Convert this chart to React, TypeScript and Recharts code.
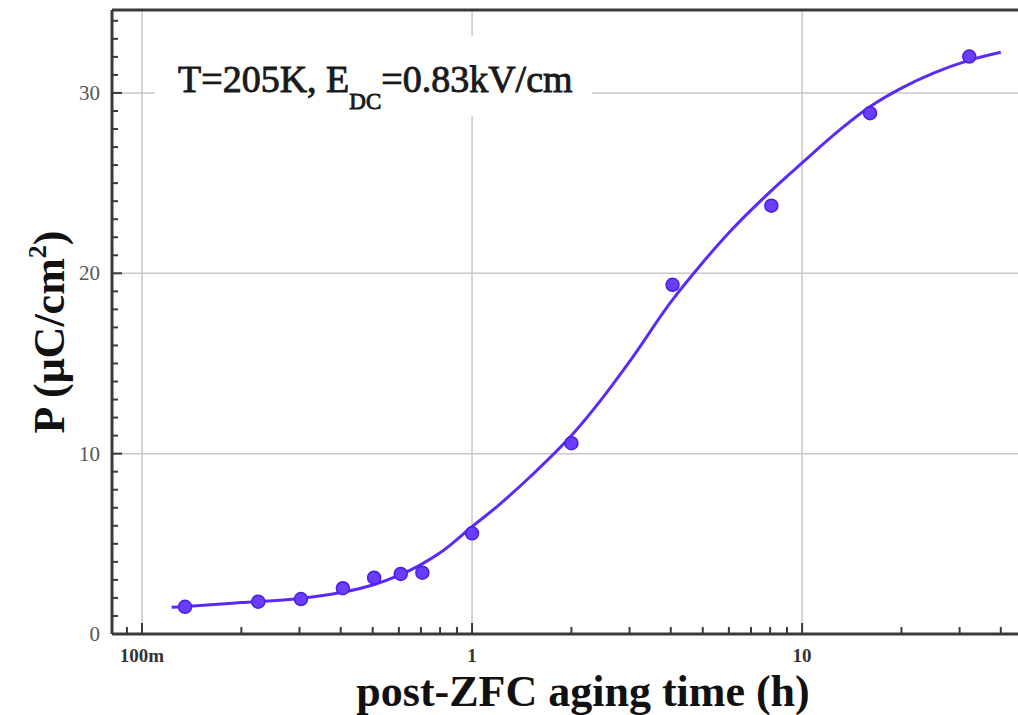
import { ComposedChart, Line, Scatter, XAxis, YAxis, ReferenceLine } from "recharts";

// measured points: aging time (h) vs polarization (uC/cm2)
const AGING_TIME = [0.135, 0.225, 0.303, 0.406, 0.505, 0.608, 0.707, 1.0, 2.0, 4.05, 8.07, 16.07, 32.1];
const POLARIZATION = [1.51, 1.79, 1.94, 2.54, 3.12, 3.33, 3.4, 5.58, 10.58, 19.36, 23.75, 28.88, 32.02];

// fitted curve
const FIT_TIME = [0.123, 0.15, 0.2, 0.3, 0.4, 0.5, 0.6, 0.7, 0.8, 1, 1.2, 1.5, 2, 2.5, 3, 4, 5, 6, 8, 10, 13, 16, 20, 25, 32, 40];
const FIT_P = [1.48, 1.58, 1.74, 1.97, 2.3, 2.72, 3.25, 3.85, 4.5, 5.95, 7.12, 8.72, 11.0, 13.15, 15.1, 18.4, 20.6, 22.25, 24.52, 26.12, 27.95, 29.22, 30.27, 31.1, 31.81, 32.26];

const X_TICKS = [0.09, 0.1, 0.2, 0.3, 0.4, 0.5, 0.6, 0.7, 0.8, 0.9, 1, 2, 3, 4, 5, 6, 7, 8, 9, 10, 20, 30, 40];
const X_LABELS: Record<string, string> = { "0.1": "100m", "1": "1", "10": "10" };
const X_GRID = [0.1, 1, 10];

const Y_TICKS = [0, 1, 2, 3, 4, 5, 6, 7, 8, 9, 10, 11, 12, 13, 14, 15, 16, 17, 18, 19, 20, 21, 22, 23, 24, 25, 26, 27, 28, 29, 30, 31, 32, 33, 34];
const Y_LABELS = [0, 10, 20, 30];

const X_MIN = 0.0811;
const X_MAX = 45.1;
const Y_MAX = 34.6;

const SERIF = "'Liberation Serif', 'Times New Roman', serif";
const BLUE = "#5a2bf8";
const AXIS = "#3a3a3a";
const GRID = "#c8c8c8";

const W = 1018;
const H = 715;

const points = AGING_TIME.map((t, i) => ({ t, p: POLARIZATION[i] }));
const fit = FIT_TIME.map((t, i) => ({ t, p: FIT_P[i] }));

function XTick(props: any) {
  const { x, y, payload } = props;
  const label = X_LABELS[String(payload.value)];
  const major = label !== undefined;
  return (
    <g>
      <line x1={x} x2={x} y1={y} y2={y - (major ? 11 : 7)} stroke={AXIS} strokeWidth={2} />
      {major && (
        <text x={x} y={y + 28} textAnchor="middle" fontFamily={SERIF} fontSize={19} fontWeight={700} fill="#333">
          {label}
        </text>
      )}
    </g>
  );
}

function YTick(props: any) {
  const { x, y, payload } = props;
  const major = Y_LABELS.includes(payload.value);
  return (
    <g>
      <line x1={x} x2={x + (major ? 10 : 6)} y1={y} y2={y} stroke={AXIS} strokeWidth={2} />
      {major && (
        <text x={x - 12} y={y + 7} textAnchor="end" fontFamily={SERIF} fontSize={21} fill="#555">
          {payload.value}
        </text>
      )}
    </g>
  );
}

function Dot(props: any) {
  const { cx, cy } = props;
  if (cx == null || cy == null) return null;
  return <circle cx={cx} cy={cy} r={6.5} fill="#6a3cff" stroke="#4a1fe0" strokeWidth={1.5} />;
}

export default function App() {
  return (
    <div style={{ position: "absolute", left: 0, top: 0, width: W, height: H, background: "#fff" }}>
      <ComposedChart width={W} height={H} margin={{ top: 10, right: 0, left: 0, bottom: 0 }}>
        <XAxis
          dataKey="t"
          type="number"
          scale="log"
          domain={[X_MIN, X_MAX]}
          allowDataOverflow
          ticks={X_TICKS}
          interval={0}
          tick={<XTick />}
          tickLine={false}
          tickSize={0}
          tickMargin={0}
          height={81}
          axisLine={{ stroke: AXIS, strokeWidth: 3 }}
        />
        <YAxis
          dataKey="p"
          type="number"
          domain={[0, Y_MAX]}
          allowDataOverflow
          ticks={Y_TICKS}
          interval={0}
          tick={<YTick />}
          tickLine={false}
          tickSize={0}
          tickMargin={0}
          width={112}
          axisLine={{ stroke: AXIS, strokeWidth: 3 }}
        />
        {X_GRID.map((v) => (
          <ReferenceLine key={"x" + v} x={v} stroke={GRID} strokeWidth={1.5} />
        ))}
        {Y_LABELS.filter((v) => v > 0).map((v) => (
          <ReferenceLine key={"y" + v} y={v} stroke={GRID} strokeWidth={1.5} />
        ))}
        <ReferenceLine y={Y_MAX} stroke={AXIS} strokeWidth={3} />
        <Line
          data={fit}
          dataKey="p"
          type="monotone"
          stroke={BLUE}
          strokeWidth={3}
          dot={false}
          activeDot={false}
          isAnimationActive={false}
        />
        <Scatter data={points} dataKey="p" shape={<Dot />} isAnimationActive={false} />
      </ComposedChart>

      {/* annotation + axis titles */}
      <svg width={W} height={H} style={{ position: "absolute", left: 0, top: 0, pointerEvents: "none" }}>
        <rect x={155} y={36} width={437} height={80} fill="#fff" />
        <text x={178} y={92} fontFamily={SERIF} fontSize={38} fill="#1a1a1a" stroke="#1a1a1a" strokeWidth={0.9}>
          T=205K, E
          <tspan fontSize={23} dy={17}>DC</tspan>
          <tspan dy={-17}>=0.83kV/cm</tspan>
        </text>
        <text x={583} y={706} textAnchor="middle" fontFamily={SERIF} fontSize={44} fontWeight={700} fill="#111">
          post-ZFC aging time (h)
        </text>
        <text
          x={64}
          y={332}
          transform="rotate(-90 64 332)"
          textAnchor="middle"
          fontFamily={SERIF}
          fontSize={44}
          fontWeight={700}
          fill="#111"
        >
          P (μC/cm
          <tspan fontSize={26} dy={-18}>2</tspan>
          <tspan dy={18}>)</tspan>
        </text>
      </svg>
    </div>
  );
}
